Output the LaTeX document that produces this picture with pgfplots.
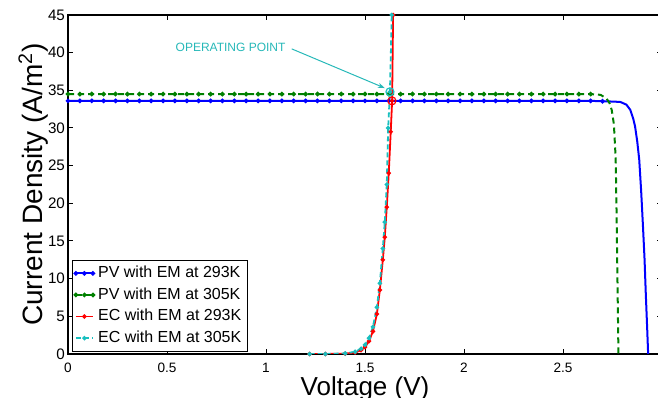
\documentclass[border=0pt]{standalone}
\usepackage{pgfplots}
\pgfplotsset{compat=1.18}
\usetikzlibrary{arrows.meta}
\usepackage{fontspec}
\setmainfont{Liberation Sans}
\definecolor{mblue}{rgb}{0,0,1}
\definecolor{mgreen}{rgb}{0,0.5,0}
\definecolor{mred}{rgb}{1,0,0}
\definecolor{mcyan}{rgb}{0.1,0.75,0.75}
\definecolor{optext}{rgb}{0.15,0.72,0.72}
\begin{document}
\begin{tikzpicture}
\begin{axis}[name=ax, width=297pt, height=169.5pt, scale only axis,
 xmin=0, xmax=3, ymin=0, ymax=45,
 xtick={0,0.5,1,1.5,2,2.5,3}, xticklabels={0,0.5,1,1.5,2,2.5,3},
 ytick={0,5,...,45},
 tick align=inside, major tick length=2.5pt,
 tick style={black, line width=0.5pt},
 axis line style={black, line width=0.6pt},
 /pgf/number format/assume math mode=true,
 xticklabel style={font=\fontsize{6.8}{8}\selectfont, yshift=-1pt},
 yticklabel style={font=\fontsize{7.6}{9}\selectfont, xshift=2pt},
 xlabel={Voltage (V)}, ylabel={Current Density (A/m\textsuperscript{2})},
 xlabel style={font=\fontsize{13}{15}\selectfont, yshift=5pt},
 ylabel style={font=\fontsize{14}{16}\selectfont, yshift=-7pt},
 legend style={at={(0.007,0.006)}, anchor=south west, font=\fontsize{8}{9.5}\selectfont,
   draw=black, line width=0.5pt, inner sep=1pt, row sep=-0.5pt},
 legend cell align=left,
 legend image code/.code={\draw[mark repeat=2,mark phase=2,#1] plot coordinates {(0cm,0cm)(0.15cm,0cm)(0.3cm,0cm)};},
 every axis plot/.append style={mark=*, mark size=0.6pt},
]
\addplot[mblue, line width=1pt, mark options={solid}, mark indices={1,...,46}] coordinates {
(0,33.6)(0.06,33.6)(0.12,33.6)(0.18,33.6)(0.24,33.6)(0.30,33.6)(0.36,33.6)(0.42,33.6)(0.48,33.6)(0.54,33.6)
(0.60,33.6)(0.66,33.6)(0.72,33.6)(0.78,33.6)(0.84,33.6)(0.90,33.6)(0.96,33.6)(1.02,33.6)(1.08,33.6)(1.14,33.6)
(1.20,33.6)(1.26,33.6)(1.32,33.6)(1.38,33.6)(1.44,33.6)(1.50,33.6)(1.56,33.6)(1.62,33.6)(1.68,33.6)(1.74,33.6)
(1.80,33.6)(1.86,33.6)(1.92,33.6)(1.98,33.6)(2.04,33.6)(2.10,33.6)(2.16,33.6)(2.22,33.6)(2.28,33.6)(2.34,33.6)
(2.40,33.6)(2.46,33.6)(2.52,33.6)(2.58,33.6)(2.64,33.6)(2.70,33.55)(2.76,33.5)
(2.79,33.45)(2.82,33.1)(2.84,32.4)(2.855,31.2)(2.864,30.2)(2.875,28.2)(2.885,25.8)(2.895,21.5)
(2.904,16.9)(2.912,12.5)(2.918,8.1)(2.925,3.5)(2.93,0)};
\addlegendentry{PV with EM at 293K}
\addplot[mgreen, line width=1pt, dash pattern=on 3pt off 2pt, mark options={solid}, mark indices={1,...,45}] coordinates {
(0,34.5)(0.06,34.5)(0.12,34.5)(0.18,34.5)(0.24,34.5)(0.30,34.5)(0.36,34.5)(0.42,34.5)(0.48,34.5)(0.54,34.5)
(0.60,34.5)(0.66,34.5)(0.72,34.5)(0.78,34.5)(0.84,34.5)(0.90,34.5)(0.96,34.5)(1.02,34.5)(1.08,34.5)(1.14,34.5)
(1.20,34.5)(1.26,34.5)(1.32,34.5)(1.38,34.5)(1.44,34.5)(1.50,34.5)(1.56,34.5)(1.62,34.5)(1.68,34.5)(1.74,34.5)
(1.80,34.5)(1.86,34.5)(1.92,34.5)(1.98,34.5)(2.04,34.5)(2.10,34.5)(2.16,34.5)(2.22,34.5)(2.28,34.5)(2.34,34.5)
(2.40,34.5)(2.46,34.5)(2.52,34.5)(2.58,34.5)(2.64,34.5)
(2.69,34.4)(2.72,33.9)(2.735,33.3)(2.746,32.4)(2.757,30.5)(2.766,26)(2.771,18)(2.775,10)(2.778,4)(2.78,0)};
\addlegendentry{PV with EM at 305K}
\addplot[mred, line width=0.9pt] coordinates {
(1.22,0)(1.30,0)(1.40,0.05)(1.45,0.2)(1.48,0.5)(1.50,0.9)(1.52,1.7)(1.54,3.0)(1.56,5.3)(1.575,8.5)
(1.59,12.5)(1.60,15.5)(1.61,19.5)(1.62,24)(1.63,29.5)(1.637,33.6)(1.642,45)(1.645,50)};
\addlegendentry{EC with EM at 293K}
\addplot[mcyan, line width=0.9pt, dash pattern=on 2.5pt off 1.5pt, mark options={solid}] coordinates {
(1.22,0)(1.30,0)(1.40,0.08)(1.45,0.3)(1.48,0.7)(1.50,1.2)(1.52,2.1)(1.54,3.6)(1.56,6.2)(1.575,9.4)
(1.59,14)(1.60,17.5)(1.61,22.5)(1.617,30)(1.626,34.8)(1.635,45)(1.64,50)};
\addlegendentry{EC with EM at 305K}
\addplot[mred, only marks, mark=o, mark size=2pt, line width=0.6pt, forget plot] coordinates {(1.636,33.6)};
\addplot[mcyan, only marks, mark=o, mark size=2pt, line width=0.6pt, forget plot] coordinates {(1.626,34.8)};
\node[optext, font=\fontsize{6}{7}\selectfont, inner sep=0pt] at (axis cs:0.821,40.75) {OPERATING POINT};
\draw[optext, line width=0.5pt, -{Stealth[length=3.5pt,width=2.5pt]}] (axis cs:1.13,40.5) -- (axis cs:1.60,35.3);
\end{axis}
\pgfresetboundingbox
\path ([xshift=-34pt,yshift=-22pt]ax.south west) rectangle ([xshift=-2pt,yshift=7.5pt]ax.north east);
\end{tikzpicture}
\end{document}
